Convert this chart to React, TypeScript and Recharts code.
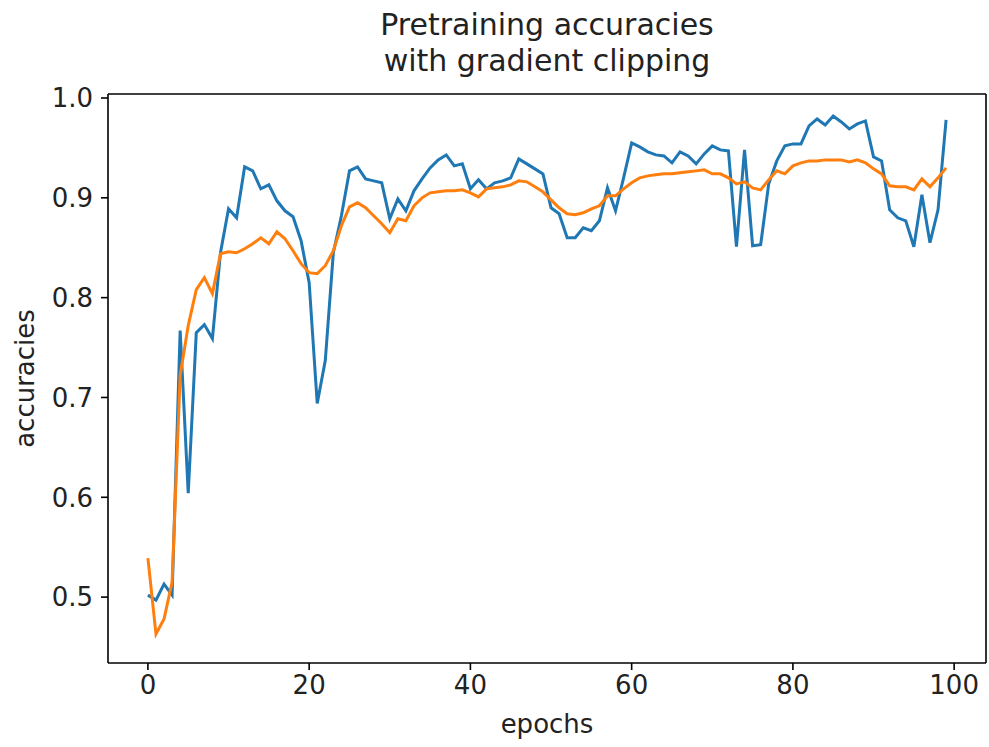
import { LineChart, Line, XAxis, YAxis, ReferenceLine } from 'recharts';

// raw per-epoch accuracy (blue)
const accuracies = [
  0.502, 0.497, 0.513, 0.502, 0.767, 0.604, 0.765, 0.773, 0.759, 0.845,
  0.889, 0.880, 0.931, 0.927, 0.909, 0.913, 0.897, 0.887, 0.881, 0.857,
  0.815, 0.694, 0.737, 0.845, 0.882, 0.927, 0.931, 0.919, 0.917, 0.915,
  0.879, 0.899, 0.887, 0.907, 0.919, 0.930, 0.938, 0.943, 0.932, 0.934,
  0.909, 0.918, 0.909, 0.915, 0.917, 0.920, 0.939, 0.934, 0.929, 0.924,
  0.890, 0.884, 0.860, 0.860, 0.870, 0.867, 0.877, 0.910, 0.887, 0.920,
  0.955, 0.951, 0.946, 0.943, 0.942, 0.935, 0.946, 0.942, 0.934, 0.944,
  0.952, 0.948, 0.947, 0.851, 0.948, 0.852, 0.853, 0.914, 0.937, 0.952,
  0.954, 0.954, 0.972, 0.979, 0.973, 0.982, 0.976, 0.969, 0.974, 0.977,
  0.941, 0.937, 0.888, 0.880, 0.877, 0.851, 0.903, 0.855, 0.888, 0.978,
];

// smoothed curve (orange)
const smoothed = [
  0.539, 0.463, 0.478, 0.515, 0.722, 0.772, 0.808, 0.820, 0.804, 0.844,
  0.846, 0.845, 0.849, 0.854, 0.860, 0.854, 0.866, 0.859, 0.847, 0.834,
  0.825, 0.824, 0.832, 0.847, 0.872, 0.891, 0.895, 0.890, 0.882, 0.874,
  0.865, 0.879, 0.877, 0.892, 0.900, 0.905, 0.906, 0.907, 0.907, 0.908,
  0.905, 0.901, 0.909, 0.910, 0.911, 0.913, 0.917, 0.916, 0.911, 0.906,
  0.898, 0.890, 0.884, 0.883, 0.885, 0.889, 0.892, 0.902, 0.902, 0.909,
  0.915, 0.920, 0.922, 0.923, 0.924, 0.924, 0.925, 0.926, 0.927, 0.928,
  0.924, 0.924, 0.920, 0.914, 0.916, 0.910, 0.908, 0.918, 0.927, 0.924,
  0.932, 0.935, 0.937, 0.937, 0.938, 0.938, 0.938, 0.936, 0.938, 0.935,
  0.929, 0.924, 0.912, 0.911, 0.911, 0.908, 0.919, 0.911, 0.920, 0.930,
];

const xTicks = [0, 20, 40, 60, 80, 100];
const yTicks = [0.5, 0.6, 0.7, 0.8, 0.9, 1.0];
const X_DOMAIN = [-4.95, 103.95];
const Y_DOMAIN = [0.434, 1.004];

const data = accuracies.map((a, i) => ({ epoch: i, acc: a, smooth: smoothed[i] }));

const FONT = '"DejaVu Sans", sans-serif';
const TICK = { fill: '#222', fontSize: 26, fontFamily: FONT };
const AXIS_LINE = { stroke: '#000', strokeWidth: 1.6 };

export default function App() {
  return (
    <div style={{ position: 'absolute', left: 0, top: 0, width: 989, height: 747, background: '#fff', fontFamily: FONT }}>
      <div
        style={{
          position: 'absolute', left: 108, top: 7, width: 878,
          textAlign: 'center', fontSize: 30, lineHeight: '36px', color: '#222',
        }}
      >
        Pretraining accuracies
        <br />
        with gradient clipping
      </div>
      <LineChart width={989} height={747} data={data} margin={{ top: 94, right: 3, left: 0, bottom: 0 }}>
        <XAxis
          dataKey="epoch"
          type="number"
          domain={X_DOMAIN}
          allowDataOverflow
          ticks={xTicks}
          height={84}
          tickSize={7}
          tickMargin={6}
          tick={TICK}
          tickLine={AXIS_LINE}
          axisLine={AXIS_LINE}
          label={{ value: 'epochs', position: 'insideBottom', offset: 14, style: { fill: '#222', fontSize: 26, fontFamily: FONT } }}
        />
        <YAxis
          type="number"
          domain={Y_DOMAIN}
          allowDataOverflow
          ticks={yTicks}
          width={108}
          tickSize={7}
          tickMargin={8}
          tick={TICK}
          tickLine={AXIS_LINE}
          axisLine={AXIS_LINE}
          tickFormatter={(v: number) => v.toFixed(1)}
          label={{ value: 'accuracies', angle: -90, position: 'insideLeft', offset: 25, style: { textAnchor: 'middle', fill: '#222', fontSize: 26, fontFamily: FONT } }}
        />
        {/* top and right spines */}
        <ReferenceLine y={Y_DOMAIN[1]} stroke="#000" strokeWidth={1.6} />
        <ReferenceLine x={X_DOMAIN[1]} stroke="#000" strokeWidth={1.6} />
        <Line type="linear" dataKey="acc" stroke="#1f77b4" strokeWidth={3} dot={false} isAnimationActive={false} />
        <Line type="linear" dataKey="smooth" stroke="#ff7f0e" strokeWidth={3} dot={false} isAnimationActive={false} />
      </LineChart>
    </div>
  );
}
